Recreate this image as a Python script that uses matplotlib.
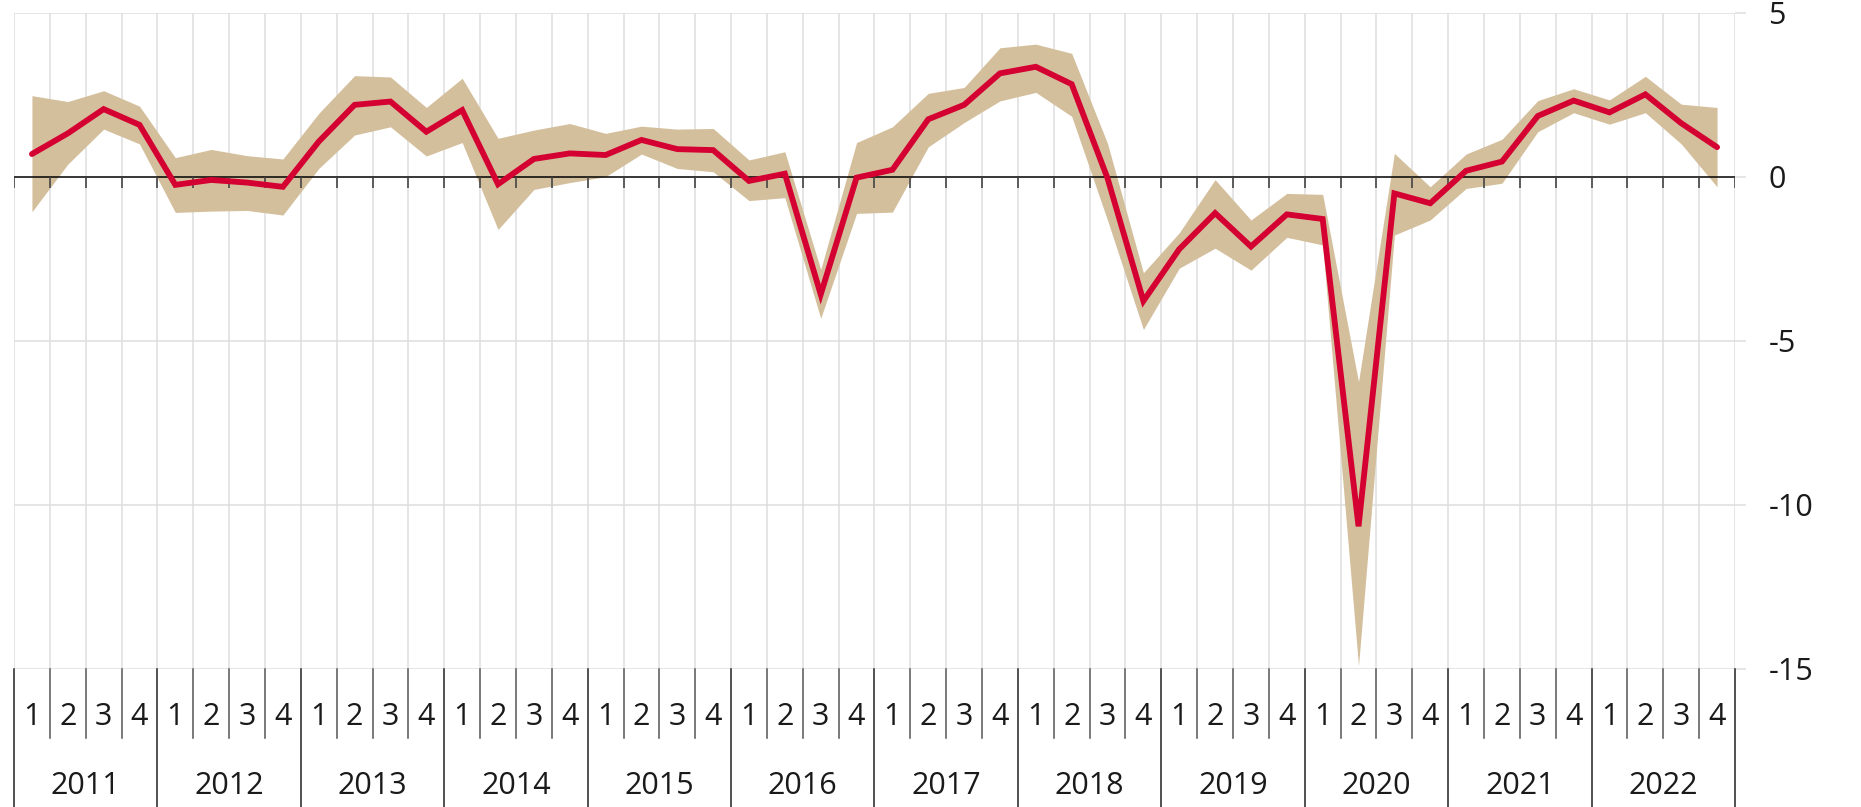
import numpy as np
import matplotlib
matplotlib.use('Agg')
import matplotlib.pyplot as plt
import matplotlib.transforms as mtransforms

plt.rcParams['font.family'] = ['Open Sans', 'DejaVu Sans']
plt.rcParams['axes.unicode_minus'] = False

years = list(range(2011, 2023))
quarter_labels = ['1', '2', '3', '4']

# quarterly change, 2011Q1 .. 2022Q4
growth = [0.70, 1.33, 2.07, 1.59, -0.24, -0.09, -0.17, -0.30,
          1.08, 2.20, 2.30, 1.38, 2.04, -0.22, 0.55, 0.72,
          0.67, 1.13, 0.85, 0.82, -0.12, 0.10, -3.58, -0.02,
          0.22, 1.76, 2.20, 3.16, 3.36, 2.83, -0.04, -3.78,
          -2.20, -1.10, -2.12, -1.14, -1.28, -10.65, -0.50, -0.80,
          0.19, 0.47, 1.86, 2.33, 1.97, 2.52, 1.64, 0.91]

band_upper = [2.48, 2.30, 2.63, 2.16, 0.59, 0.84, 0.65, 0.55,
              1.94, 3.09, 3.05, 2.12, 3.01, 1.18, 1.43, 1.63,
              1.33, 1.55, 1.46, 1.48, 0.52, 0.77, -2.82, 1.05,
              1.53, 2.55, 2.73, 3.94, 4.05, 3.77, 1.02, -2.92,
              -1.70, -0.08, -1.31, -0.50, -0.53, -6.24, 0.72, -0.30,
              0.70, 1.15, 2.33, 2.69, 2.35, 3.07, 2.22, 2.12]

band_lower = [-1.06, 0.39, 1.46, 1.01, -1.08, -1.04, -1.02, -1.16,
              0.26, 1.28, 1.53, 0.64, 1.05, -1.60, -0.38, -0.17,
              0.01, 0.70, 0.26, 0.16, -0.72, -0.63, -4.31, -1.11,
              -1.07, 0.92, 1.66, 2.32, 2.58, 1.85, -1.32, -4.65,
              -2.78, -2.17, -2.84, -1.84, -2.07, -14.90, -1.77, -1.31,
              -0.35, -0.19, 1.38, 1.96, 1.61, 1.96, 1.01, -0.30]

y_ticks = [5, 0, -5, -10, -15]

red = '#D50032'
tan = '#D4BF9C'
grid_c = '#DEDEDE'
txt = '#1A1A1A'

n = len(growth)
x = np.arange(n) + 0.5

fig = plt.figure(figsize=(18.61, 8.07), dpi=100)
ax = fig.add_axes([14 / 1861, 1 - 669 / 807, (1735 - 14) / 1861, (669 - 13) / 807])
ax.set_xlim(0, n)
ax.set_ylim(-15, 5)

# grid
for k in range(n + 1):
    ax.axvline(k, color=grid_c, lw=1.1, zorder=0)
for v in y_ticks:
    if v != 0:
        ax.axhline(v, color=grid_c, lw=1.1, zorder=0)

ax.fill_between(x, band_lower, band_upper, color=tan, lw=0, zorder=1)
ax.axhline(0, color='black', lw=1.1, zorder=3)
ax.vlines(np.arange(n + 1), -0.34, 0, color='#444444', lw=1.2, zorder=3)
ax.plot(x, growth, color=red, lw=4.2, solid_joinstyle='miter', solid_capstyle='round', zorder=4)

for s in ax.spines.values():
    s.set_visible(False)
ax.set_xticks([])
ax.yaxis.tick_right()
ax.set_yticks(y_ticks)
ax.set_yticklabels([str(v) for v in y_ticks])
ax.tick_params(axis='y', length=8, width=1.1, color=grid_c, pad=16,
               labelsize=22, labelcolor=txt)
for lab in ax.get_yticklabels():
    lab.set_horizontalalignment('left')

# quarter / year axis below the plot
trans = mtransforms.blended_transform_factory(ax.transData, ax.transAxes)
for k in range(n + 1):
    if k % 4 == 0:
        ax.plot([k, k], [0, -0.215], transform=trans, color='#222222', lw=1.1, clip_on=False)
    else:
        ax.plot([k, k], [0, -0.105], transform=trans, color='#555555', lw=1.1, clip_on=False)

for i in range(n):
    ax.text(x[i], -0.073, quarter_labels[i % 4], transform=trans, ha='center', va='center',
            fontsize=22, color=txt)
for j, yr in enumerate(years):
    ax.text(4 * j + 2, -0.178, str(yr), transform=trans, ha='center', va='center',
            fontsize=22, color=txt)

fig.savefig('out.png', dpi=100)
